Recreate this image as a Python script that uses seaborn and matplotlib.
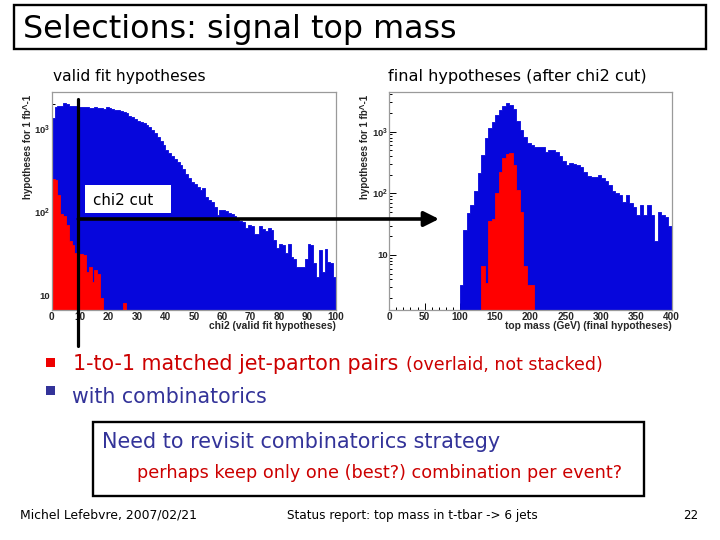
import numpy as np
import pandas as pd
import matplotlib
matplotlib.use("Agg")
import matplotlib.pyplot as plt
import matplotlib.patches as mpatches
from matplotlib.lines import Line2D
from matplotlib.ticker import FixedLocator, FixedFormatter, MultipleLocator, LogLocator, NullFormatter
import seaborn as sns

# ---------------- data ----------------
# left: chi2 of valid fit hypotheses, 1-unit bins starting at 0
chi2_start, chi2_width = 0, 1
chi2_all = [1360, 1850, 1880, 1900, 2050, 1980, 1900, 1880, 1900, 1850,
            1870, 1830, 1860, 1820, 1800, 1850, 1780, 1820, 1760, 1830,
            1800, 1760, 1700, 1720, 1650, 1620, 1560, 1450, 1400, 1330,
            1260, 1220, 1180, 1120, 1060, 980, 900, 800, 720, 640,
            560, 520, 480, 440, 400, 370, 330, 290, 260, 230,
            215, 200, 185, 195, 150, 140, 134, 115, 92, 107,
            107, 104, 98, 95, 90, 85, 77, 75, 65, 70,
            68, 54, 55, 67, 62, 59, 65, 60, 46, 37,
            41, 40, 32, 41, 29, 27, 22, 22, 22, 27,
            41, 40, 24, 16.5, 35, 19, 36, 25, 24, 16.5]
chi2_matched = [250, 245, 160, 95, 90, 70, 45, 40, 32, 31,
                31, 30, 19, 22, 14.5, 20, 18, 9.3, 0, 0,
                0, 0, 0, 0, 0, 8]

# right: top mass of final hypotheses, 5 GeV bins
mass_width = 5
mass_all_start = 100
mass_all = [3.3, 25, 48, 65, 110, 212, 420, 780, 1130, 1450,
            1850, 2250, 2600, 2880, 2750, 2300, 1500, 1050, 830, 650,
            610, 570, 570, 560, 475, 510, 500, 475, 395, 330,
            288, 307, 300, 288, 270, 225, 190, 187, 187, 198,
            175, 160, 137, 110, 100, 94, 73, 94, 70, 61,
            45, 65, 45, 65, 45, 16.6, 50, 45, 42, 29]
mass_matched_start = 130
mass_matched = [6.5, 3.5, 35, 38, 100, 220, 370, 430, 450, 290,
                115, 50, 6.5, 3.3, 3.3]

chi2_ticks = [0, 10, 20, 30, 40, 50, 60, 70, 80, 90, 100]
mass_ticks = [0, 50, 100, 150, 200, 250, 300, 350, 400]
y_ticks = [10, 100, 1000]
y_ticklabels = ["10", r"$\mathbf{10^{2}}$", r"$\mathbf{10^{3}}$"]

ylabel_text = "hypotheses for 1 fb^-1"
xlabel_left = "chi2 (valid fit hypotheses)"
xlabel_right = "top mass (GeV) (final hypotheses)"

BLUE = "#0606dc"
RED = "#ff0000"
TXT_RED = "#cc0000"
TXT_BLUE = "#333399"

# ---------------- style ----------------
sns.set_style("ticks")
plt.rcParams["font.family"] = ["Liberation Sans", "DejaVu Sans"]
plt.rcParams["mathtext.fontset"] = "custom"
plt.rcParams["mathtext.bf"] = "Liberation Sans:bold"
plt.rcParams["mathtext.rm"] = "Liberation Sans"
SLIDE_FONT = ["DejaVu Sans"]

W, H = 720, 540
fig = plt.figure(figsize=(W / 100, H / 100), dpi=100)
fig.patch.set_facecolor("white")
renderer = fig.canvas.get_renderer()


def fx(x):
    return x / W


def fy(y):
    return 1 - y / H


def fit_text(x0, x1, base, s, ha="left", **kw):
    """Slide text whose width spans x0..x1 pixels, baseline at `base`."""
    xa = x0 if ha == "left" else x1
    t = fig.text(fx(xa), fy(base), s, va="baseline", ha=ha, fontsize=10,
                 family=SLIDE_FONT, **kw)
    w = t.get_window_extent(renderer).width
    t.set_fontsize(10 * (x1 - x0) / w)
    return t


def hist(ax, start, width, values, color):
    values = np.asarray(values, float)
    edges = start + width * np.arange(len(values) + 1)
    df = pd.DataFrame({"center": 0.5 * (edges[:-1] + edges[1:]), "count": values})
    sns.histplot(data=df, x="center", weights="count", bins=edges.tolist(),
                 element="step", fill=True, color=color, alpha=1,
                 linewidth=0.6, edgecolor=color, ax=ax)


def style_axes(ax, xlim, ylim, xticks, xminor, xlabel, ylab_x):
    ax.set_yscale("log")
    ax.set_xlim(*xlim)
    ax.set_ylim(*ylim)
    ax.xaxis.set_major_locator(FixedLocator(xticks))
    ax.xaxis.set_minor_locator(MultipleLocator(xminor))
    ax.yaxis.set_major_locator(FixedLocator(y_ticks))
    ax.yaxis.set_major_formatter(FixedFormatter(y_ticklabels))
    ax.yaxis.set_minor_locator(LogLocator(base=10, subs=np.arange(2, 10)))
    ax.yaxis.set_minor_formatter(NullFormatter())
    ax.tick_params(which="both", direction="in", color="black", width=0.7,
                   top=False, right=False)
    ax.tick_params(axis="x", pad=1.8, labelsize=7.2)
    ax.tick_params(axis="y", pad=1.0, labelsize=6.8)
    ax.tick_params(which="major", length=5)
    ax.tick_params(which="minor", length=2.5)
    for lab in ax.get_xticklabels() + ax.get_yticklabels():
        lab.set_fontweight("bold")
    for s in ax.spines.values():
        s.set_color("#9a9a9a")
        s.set_linewidth(0.9)
    ax.set_xlabel(xlabel, fontsize=7.4, fontweight="bold", loc="right")
    ax.xaxis.set_label_coords(1.0, -0.052)
    ax.set_ylabel(ylabel_text, fontsize=7.0, fontweight="bold", loc="top")
    ax.yaxis.set_label_coords(ylab_x, 0.985)
    ax.set_facecolor("white")


# ---------------- left histogram ----------------
ax1 = fig.add_axes([fx(51.7), fy(310), (336 - 51.7) / W, 218 / H])
hist(ax1, chi2_start, chi2_width, chi2_all, BLUE)
hist(ax1, chi2_start, chi2_width, chi2_matched, RED)
style_axes(ax1, (0, 100), (6.6, 2800), chi2_ticks, 2, xlabel_left,
           (33.0 - 51.7) / 284.3)

# ---------------- right histogram ----------------
ax2 = fig.add_axes([fx(389.3), fy(310), (671.7 - 389.3) / W, 218.3 / H])
hist(ax2, mass_all_start, mass_width, mass_all, BLUE)
hist(ax2, mass_matched_start, mass_width, mass_matched, RED)
style_axes(ax2, (0, 400), (1.28, 4440), mass_ticks, 10, xlabel_right,
           (370.5 - 389.3) / 282.4)

# ---------------- slide decorations ----------------
# title box
fig.add_artist(mpatches.Rectangle((fx(14), fy(48.5)), (706 - 14) / W, 43.5 / H,
                                  transform=fig.transFigure, fill=False,
                                  edgecolor="black", linewidth=1.7))
fit_text(22.7, 455, 38.3, "Selections: signal top mass", color="black")

fit_text(53, 205, 81, "valid fit hypotheses", color="black")
fit_text(388, 646, 81, "final hypotheses (after chi2 cut)", color="black")

# chi2 cut annotation
fig.add_artist(mpatches.Rectangle((fx(85), fy(212.5)), 86 / W, 28 / H,
                                  transform=fig.transFigure, facecolor="white",
                                  edgecolor="none", zorder=3))
fit_text(93.3, 153.3, 205, "chi2 cut", color="black", zorder=4)
fig.add_artist(Line2D([fx(78.3), fx(78.3)], [fy(99), fy(346)],
                      transform=fig.transFigure, color="black", linewidth=2.3,
                      zorder=5))
fig.add_artist(mpatches.FancyArrowPatch((fx(78.3), fy(219)), (fx(439), fy(219)),
                                        transform=fig.transFigure,
                                        arrowstyle="-|>,head_length=0.9,head_width=0.45",
                                        mutation_scale=10, linewidth=2.6,
                                        color="black", shrinkA=0, shrinkB=0,
                                        zorder=5))

# bullets
fig.add_artist(mpatches.Rectangle((fx(46), fy(367)), 9 / W, 9 / H,
                                  transform=fig.transFigure, facecolor="#ee0000",
                                  edgecolor="none"))
fit_text(73.3, 400, 370, "1-to-1 matched jet-parton pairs", color=TXT_RED)
fit_text(406, 603, 370, "(overlaid, not stacked)", color=TXT_RED)
fig.add_artist(mpatches.Rectangle((fx(46), fy(395)), 9 / W, 9 / H,
                                  transform=fig.transFigure, facecolor=TXT_BLUE,
                                  edgecolor="none"))
fit_text(71.7, 266.7, 403.3, "with combinatorics", color=TXT_BLUE)

# conclusion box
fig.add_artist(mpatches.Rectangle((fx(93), fy(496)), (644 - 93) / W, 74 / H,
                                  transform=fig.transFigure, fill=False,
                                  edgecolor="black", linewidth=1.7))
fit_text(102, 500, 448, "Need to revisit combinatorics strategy", color=TXT_BLUE)
fit_text(137, 619, 478, "perhaps keep only one (best?) combination per event?",
         color=TXT_RED)

# footer
fit_text(20, 197, 519, "Michel Lefebvre, 2007/02/21", color="black")
fit_text(287, 536, 519, "Status report: top mass in t-tbar -> 6 jets", color="black")
fit_text(683, 698, 519, "22", ha="right", color="black")

fig.savefig("out.png", dpi=100)
